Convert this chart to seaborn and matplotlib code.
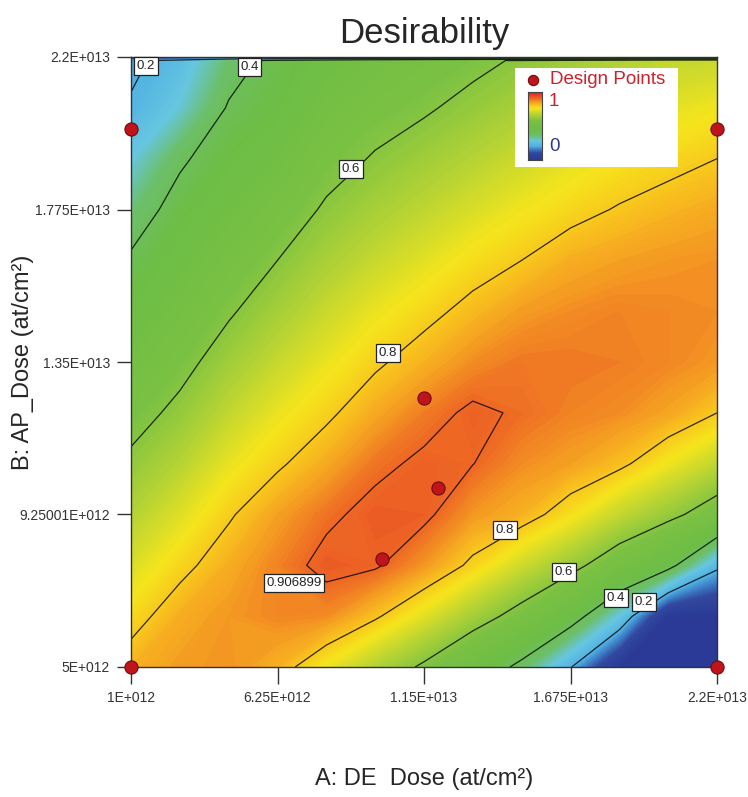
import numpy as np
import matplotlib
matplotlib.use("Agg")
import matplotlib.pyplot as plt
import seaborn as sns
from matplotlib.colors import LinearSegmentedColormap

# grid of the response surface (A: DE Dose across, B: AP_Dose up)
a_dose = [1.0e12, 2.75e12, 4.5e12, 6.25e12, 8.0e12, 9.75e12, 1.15e13,
          1.325e13, 1.5e13, 1.675e13, 1.85e13, 2.025e13, 2.2e13]
b_dose = [5.0e12, 6.417e12, 7.833e12, 9.25e12, 1.0667e13, 1.2083e13, 1.35e13,
          1.4917e13, 1.6333e13, 1.775e13, 1.9167e13, 2.0583e13, 2.19e13, 2.2e13]

# desirability, one row per b_dose value
desirability = [
    [0.83, 0.855, 0.865, 0.83, 0.747, 0.667, 0.585, 0.485, 0.373, 0.205, 0.0, 0.0, 0.0],
    [0.775, 0.835, 0.86, 0.875, 0.87, 0.81, 0.732, 0.647, 0.562, 0.453, 0.273, 0.0, 0.0],
    [0.722, 0.781, 0.835, 0.88, 0.925, 0.915, 0.86, 0.785, 0.705, 0.631, 0.533, 0.436, 0.22],
    [0.67, 0.728, 0.792, 0.85, 0.895, 0.925, 0.92, 0.86, 0.83, 0.766, 0.691, 0.626, 0.548],
    [0.617, 0.674, 0.741, 0.79, 0.84, 0.893, 0.918, 0.908, 0.87, 0.85, 0.815, 0.751, 0.686],
    [0.566, 0.621, 0.69, 0.743, 0.787, 0.84, 0.885, 0.918, 0.90, 0.88, 0.87, 0.845, 0.8],
    [0.515, 0.573, 0.64, 0.696, 0.743, 0.789, 0.83, 0.87, 0.89, 0.89, 0.885, 0.875, 0.86],
    [0.464, 0.528, 0.59, 0.648, 0.70, 0.744, 0.78, 0.82, 0.855, 0.87, 0.88, 0.875, 0.87],
    [0.413, 0.483, 0.545, 0.6, 0.655, 0.698, 0.733, 0.77, 0.80, 0.835, 0.85, 0.86, 0.865],
    [0.348, 0.438, 0.499, 0.55, 0.611, 0.652, 0.686, 0.721, 0.752, 0.78, 0.805, 0.825, 0.84],
    [0.277, 0.385, 0.454, 0.5, 0.567, 0.607, 0.64, 0.673, 0.705, 0.735, 0.76, 0.78, 0.8],
    [0.21, 0.287, 0.408, 0.45, 0.523, 0.565, 0.59, 0.624, 0.655, 0.687, 0.71, 0.735, 0.752],
    [0.18, 0.24, 0.36, 0.43, 0.48, 0.52, 0.555, 0.58, 0.61, 0.64, 0.665, 0.69, 0.70],
    [0.0, 0.0, 0.0, 0.0, 0.0, 0.0, 0.0, 0.0, 0.0, 0.0, 0.0, 0.0, 0.0],
]

# design points
design_a = [1.0e12, 1.0e12, 2.2e13, 2.2e13, 1.15e13, 1.2e13, 1.0e13]
design_b = [5.0e12, 2.0e13, 5.0e12, 2.0e13, 1.25e13, 1.0e13, 8.0e12]

contour_levels = [0.2, 0.4, 0.6, 0.8, 0.906899]
label_text = ["0.2", "0.4", "0.6", "0.8", "0.906899", "0.8", "0.6", "0.4", "0.2"]
label_a = [1.54e12, 5.25e12, 8.88e12, 1.021e13, 6.84e12, 1.44e13, 1.652e13, 1.838e13, 1.938e13]
label_b = [2.175e13, 2.172e13, 1.888e13, 1.375e13, 7.34e12, 8.82e12, 7.65e12, 6.92e12, 6.81e12]

x_ticks = [1e12, 6.25e12, 1.15e13, 1.675e13, 2.2e13]
x_ticklabels = ["1E+012", "6.25E+012", "1.15E+013", "1.675E+013", "2.2E+013"]
y_ticks = [5e12, 9.25001e12, 1.35e13, 1.775e13, 2.2e13]
y_ticklabels = ["5E+012", "9.25001E+012", "1.35E+013", "1.775E+013", "2.2E+013"]

sns.set_style("white")
plt.rcParams["font.family"] = ["Liberation Sans", "DejaVu Sans"]

cmap = LinearSegmentedColormap.from_list("desir", [
    (0.0, "#2a3a96"), (0.1, "#32489f"), (0.15, "#3d7dc6"), (0.2, "#52b2e2"),
    (0.28, "#66c6e0"), (0.36, "#6cbf6a"), (0.45, "#6dbd45"), (0.58, "#7ac143"),
    (0.68, "#b8d433"), (0.76, "#f5e51c"), (0.81, "#f8c41d"), (0.86, "#f49a22"),
    (0.90, "#ef6f24"), (0.95, "#e84a24"), (1.0, "#db2226")])

Z = np.array(desirability)

fig = plt.figure(figsize=(7.48, 7.97), dpi=100)
ax = fig.add_axes([131 / 748, 130 / 797, 586 / 748, 610 / 797])

cf = ax.contourf(a_dose, b_dose, Z, levels=np.linspace(0, 1, 201), cmap=cmap,
                 vmin=0, vmax=1)
cf.set_edgecolor("face")
cf.set_linewidth(0.3)
ax.contour(a_dose, b_dose, Z, levels=contour_levels, colors="black",
           linewidths=0.9, alpha=0.8)

for txt, xa, yb in zip(label_text, label_a, label_b):
    ax.text(xa, yb, txt, fontsize=9.5, ha="center", va="center", color="#222222",
            bbox=dict(boxstyle="square,pad=0.2", fc="white", ec="#222222", lw=0.9),
            zorder=6)

sns.scatterplot(x=design_a, y=design_b, ax=ax, s=90, color="#c0141c",
                edgecolor="#6e0b10", linewidth=0.8, zorder=7, clip_on=False,
                legend=False)

ax.set_xlim(1e12, 2.2e13)
ax.set_ylim(5e12, 2.2e13)
ax.set_xticks(x_ticks)
ax.set_xticklabels(x_ticklabels)
ax.set_yticks(y_ticks)
ax.set_yticklabels(y_ticklabels)
ax.tick_params(axis="x", bottom=True, direction="out", length=12, width=1, pad=5,
               labelsize=10, colors="#333333")
ax.tick_params(axis="y", left=True, direction="out", length=10, width=1, pad=5,
               labelsize=10, colors="#333333")
for s in ax.spines.values():
    s.set_color("#333333")
    s.set_linewidth(1)

ax.set_title("Desirability", fontsize=25, pad=10)
ax.set_xlabel("A: DE  Dose (at/cm²)", fontsize=17)
ax.xaxis.set_label_coords(0.5, -0.165)
ax.set_ylabel("B: AP_Dose (at/cm²)", fontsize=17)
ax.yaxis.set_label_coords(-0.165, 0.5)

# legend box
leg = fig.add_axes([515 / 748, 1 - 167 / 797, 163 / 748, 99 / 797])
leg.set_xlim(0, 1)
leg.set_ylim(0, 1)
leg.set_xticks([])
leg.set_yticks([])
for s in leg.spines.values():
    s.set_visible(False)
leg.set_facecolor("white")
leg.scatter([0.11], [0.879], s=55, color="#c0141c", edgecolor="#6e0b10", linewidth=0.8)
leg.text(0.215, 0.879, "Design Points", color="#cc2229", fontsize=13.5, va="center")
leg.text(0.239, 0.662, "1", color="#c0282d", fontsize=13.5, ha="center", va="center")
leg.text(0.245, 0.207, "0", color="#2b3990", fontsize=13.5, ha="center", va="center")

bar = fig.add_axes([528 / 748, 1 - 160 / 797, 14 / 748, 68 / 797])
bar.imshow(np.linspace(1, 0, 100).reshape(-1, 1), aspect="auto", cmap=cmap,
           vmin=0, vmax=1)
bar.set_xticks([])
bar.set_yticks([])
for s in bar.spines.values():
    s.set_color("#444444")
    s.set_linewidth(0.8)

fig.savefig("out.png", dpi=100)
